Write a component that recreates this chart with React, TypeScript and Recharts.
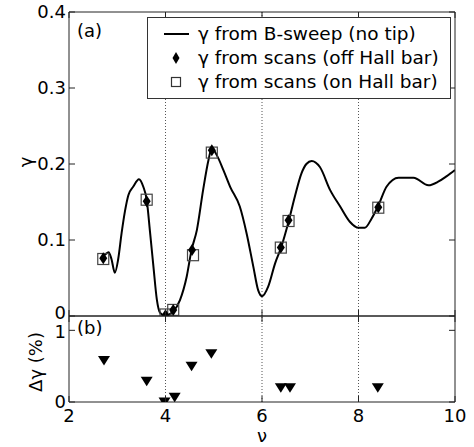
import React from 'react';
import { ComposedChart, Line, Scatter, XAxis, YAxis, ReferenceLine, Legend } from 'recharts';

// ---- data ----
const nuSweep = [
  2.68, 2.75, 2.82, 2.88, 2.95, 3.02, 3.09, 3.16, 3.23, 3.33, 3.45, 3.54, 3.61, 3.68, 3.75, 3.82, 3.89,
  4.0, 4.08, 4.16, 4.3, 4.44, 4.54, 4.65, 4.78, 4.89, 4.96, 5.06, 5.2, 5.34, 5.54, 5.68, 5.82, 5.92,
  6.0, 6.13, 6.27, 6.39, 6.55, 6.68, 6.82, 6.92, 7.03, 7.2, 7.41, 7.62, 7.82, 8.0, 8.13, 8.27, 8.41,
  8.58, 8.83, 9.14, 9.45, 9.66, 9.83, 10.0,
];
const gammaSweep = [
  0.077, 0.081, 0.084, 0.075, 0.057, 0.075, 0.109, 0.138, 0.159, 0.17, 0.18, 0.17, 0.153, 0.11, 0.065, 0.022, 0.004,
  0.0, 0.002, 0.006, 0.021, 0.052, 0.087, 0.113, 0.166, 0.205, 0.221, 0.212, 0.192, 0.17, 0.144, 0.109, 0.065, 0.034,
  0.026, 0.039, 0.069, 0.089, 0.124, 0.157, 0.188, 0.2, 0.204, 0.196, 0.166, 0.144, 0.124, 0.116, 0.116, 0.128, 0.145,
  0.17, 0.182, 0.182, 0.172, 0.177, 0.184, 0.192,
];
const nuScan = [2.71, 3.61, 4.0, 4.16, 4.55, 4.96, 6.39, 6.55, 8.41];
const gammaOff = [0.076, 0.151, 0.001, 0.008, 0.087, 0.218, 0.09, 0.126, 0.143];
const nuScanOn = [2.71, 3.61, 4.0, 4.16, 4.57, 4.96, 6.39, 6.55, 8.41];
const gammaOn = [0.075, 0.153, 0.002, 0.008, 0.08, 0.215, 0.09, 0.125, 0.1425];
const nuDelta = [2.725, 3.61, 3.98, 4.19, 4.54, 4.95, 6.39, 6.58, 8.4];
const deltaGamma = [0.58, 0.29, 0.0, 0.065, 0.5, 0.675, 0.2, 0.2, 0.2];

const xTicks = [2, 4, 6, 8, 10];
const gammaTicks = [0, 0.1, 0.2, 0.3, 0.4];
const deltaTicks = [0, 1];
const gridNu = [4, 6, 8];

const legendLabels = [
  'γ from B-sweep (no tip)',
  'γ from scans (off Hall bar)',
  'γ from scans (on Hall bar)',
];

const sweepData = nuSweep.map((x, i) => ({ x, y: gammaSweep[i] }));
const offData = nuScan.map((x, i) => ({ x, y: gammaOff[i] }));
const onData = nuScanOn.map((x, i) => ({ x, y: gammaOn[i] }));
const deltaData = nuDelta.map((x, i) => ({ x, y: deltaGamma[i] }));

// ---- styling ----
const FONT = '"DejaVu Sans", sans-serif';
const AX = '#222';
const TICK_LEN = 6;

const makeLeftTick = (nudge: (v: number) => number) => (props: any) => {
  const { x, y, payload } = props;
  return (
    <g>
      <line x1={x} x2={x + TICK_LEN} y1={y} y2={y} stroke={AX} />
      <text x={x - 3} y={y + nudge(payload.value)} dy="0.36em" textAnchor="end" fontSize={18} fontFamily={FONT} fill="#000">
        {String(payload.value)}
      </text>
    </g>
  );
};
const LeftTickTop = makeLeftTick((v) => (v === 0 ? -3 : 0));
const LeftTickBottom = makeLeftTick((v) => (v === 1 ? 1 : 0));
const RightTick = (props: any) => {
  const { x, y } = props;
  return <line x1={x - TICK_LEN} x2={x} y1={y} y2={y} stroke={AX} />;
};
const TopTick = (props: any) => {
  const { x, y } = props;
  return <line x1={x} x2={x} y1={y} y2={y + TICK_LEN} stroke={AX} />;
};
const BottomInnerTick = (props: any) => {
  const { x, y } = props;
  return <line x1={x} x2={x} y1={y - TICK_LEN} y2={y} stroke={AX} />;
};
const BottomLabelTick = (props: any) => {
  const { x, y, payload } = props;
  return (
    <g>
      <line x1={x} x2={x} y1={y - TICK_LEN} y2={y} stroke={AX} />
      <text x={x} y={y + 20} textAnchor="middle" fontSize={18} fontFamily={FONT} fill="#000">
        {String(payload.value)}
      </text>
    </g>
  );
};

const diamondShape = (p: any) => {
  const { cx, cy } = p;
  return <path d={`M${cx},${cy - 6} L${cx + 4},${cy} L${cx},${cy + 6} L${cx - 4},${cy} Z`} fill="#000" />;
};
const squareShape = (p: any) => {
  const { cx, cy } = p;
  return <rect x={cx - 5.5} y={cy - 5.5} width={11} height={11} fill="none" stroke="#444" strokeWidth={1.2} />;
};
const triangleShape = (p: any) => {
  const { cx, cy } = p;
  return <path d={`M${cx - 6},${cy - 4.5} L${cx + 6},${cy - 4.5} L${cx},${cy + 5} Z`} fill="#000" />;
};

const GammaLabel = (props: any) => {
  const vb = props.viewBox;
  const cx = vb.x + vb.width / 2 - 9.5;
  const cy = vb.y + vb.height / 2 - 2;
  return (
    <text x={cx} y={cy} transform={`rotate(-90 ${cx} ${cy})`} textAnchor="middle" dominantBaseline="central"
      fontSize={18} fontFamily={FONT} fill="#000">γ</text>
  );
};
const DeltaLabel = (props: any) => {
  const vb = props.viewBox;
  const cx = vb.x + vb.width / 2 + 0.5;
  const cy = vb.y + vb.height / 2 + 3;
  return (
    <text x={cx} y={cy} transform={`rotate(-90 ${cx} ${cy})`} textAnchor="middle" dominantBaseline="central"
      fontSize={18} fontFamily={FONT} fill="#000">Δγ (%)</text>
  );
};
const NuLabel = (props: any) => {
  const vb = props.viewBox;
  return (
    <text x={vb.x + vb.width / 2} y={vb.y + 40} textAnchor="middle" fontSize={18} fontFamily={FONT} fill="#000">ν</text>
  );
};

const LegendBox = () => {
  const icons = [
    <line key="l" x1={16} x2={41} y1={12} y2={12} stroke="#000" strokeWidth={2} />,
    <path key="d" d="M28,6 L31.5,12 L28,18 L24.5,12 Z" fill="#000" />,
    <rect key="s" x={23.5} y={7.5} width={9} height={9} fill="none" stroke="#333" strokeWidth={1.2} />,
  ];
  return (
    <div style={{ width: 304, height: 82, boxSizing: 'border-box', border: '1px solid #333', background: '#fff',
      paddingTop: 4, fontFamily: FONT, fontSize: 18.5, color: '#000' }}>
      {legendLabels.map((t, i) => (
        <div key={t} style={{ display: 'flex', alignItems: 'center', height: 24, whiteSpace: 'nowrap' }}>
          <svg width={50} height={24} style={{ flex: 'none' }}>{icons[i]}</svg>
          <span style={{ lineHeight: '24px' }}>{t}</span>
        </div>
      ))}
    </div>
  );
};

export default function App() {
  return (
    <div style={{ position: 'absolute', left: 0, top: 0, width: 474, height: 447, background: '#fff', fontFamily: FONT }}>
      <div style={{ position: 'absolute', left: 0, top: 0 }}>
        <ComposedChart width={474} height={330} margin={{ top: 11, right: 18, bottom: 13, left: 0 }}>
          <XAxis xAxisId="b" type="number" dataKey="x" domain={[2, 10]} ticks={xTicks} interval={0}
            orientation="bottom" height={1} tickSize={0} tickMargin={0} tickLine={false}
            axisLine={{ stroke: AX }} tick={BottomInnerTick} allowDataOverflow />
          <XAxis xAxisId="t" type="number" dataKey="x" domain={[2, 10]} ticks={xTicks} interval={0}
            orientation="top" height={1} tickSize={0} tickMargin={0} tickLine={false}
            axisLine={{ stroke: AX }} tick={TopTick} allowDataOverflow />
          <YAxis yAxisId="L" type="number" dataKey="y" domain={[0, 0.4]} ticks={gammaTicks} interval={0}
            width={69} tickSize={0} tickMargin={0} tickLine={false} axisLine={{ stroke: AX }}
            tick={LeftTickTop} allowDataOverflow label={<GammaLabel />} />
          <YAxis yAxisId="R" type="number" dataKey="y" orientation="right" domain={[0, 0.4]} ticks={gammaTicks}
            interval={0} width={1} tickSize={0} tickMargin={0} tickLine={false} axisLine={{ stroke: AX }}
            tick={RightTick} allowDataOverflow />
          {gridNu.map((v) => (
            <ReferenceLine key={v} x={v} xAxisId="b" yAxisId="L" stroke="#555" strokeDasharray="1 2" />
          ))}
          <Line data={sweepData} xAxisId="b" yAxisId="L" dataKey="y" type="monotone" stroke="#000"
            strokeWidth={2} dot={false} isAnimationActive={false} />
          <Scatter data={onData} xAxisId="b" yAxisId="L" dataKey="y" shape={squareShape} isAnimationActive={false} />
          <Scatter data={offData} xAxisId="b" yAxisId="L" dataKey="y" shape={diamondShape} isAnimationActive={false} />
          <Legend layout="horizontal" verticalAlign="middle" align="center" content={() => <LegendBox />}
            wrapperStyle={{ position: 'absolute', left: 147, top: 17, width: 304, height: 82 }} />
        </ComposedChart>
      </div>
      <div style={{ position: 'absolute', left: 0, top: 300 }}>
        <ComposedChart width={474} height={147} margin={{ top: 15, right: 18, bottom: 0, left: 0 }}>
          <XAxis xAxisId="b" type="number" dataKey="x" domain={[2, 10]} ticks={xTicks} interval={0}
            orientation="bottom" height={45} tickSize={0} tickMargin={0} tickLine={false}
            axisLine={{ stroke: AX }} tick={BottomLabelTick} allowDataOverflow label={<NuLabel />} />
          <XAxis xAxisId="t" type="number" dataKey="x" domain={[2, 10]} ticks={xTicks} interval={0}
            orientation="top" height={1} tickSize={0} tickMargin={0} tickLine={false}
            axisLine={{ stroke: AX }} tick={TopTick} allowDataOverflow />
          <YAxis yAxisId="L" type="number" dataKey="y" domain={[0, 1.2]} ticks={deltaTicks} interval={0}
            width={69} tickSize={0} tickMargin={0} tickLine={false} axisLine={{ stroke: AX }}
            tick={LeftTickBottom} allowDataOverflow label={<DeltaLabel />} />
          <YAxis yAxisId="R" type="number" dataKey="y" orientation="right" domain={[0, 1.2]} ticks={deltaTicks}
            interval={0} width={1} tickSize={0} tickMargin={0} tickLine={false} axisLine={{ stroke: AX }}
            tick={RightTick} allowDataOverflow />
          {gridNu.map((v) => (
            <ReferenceLine key={v} x={v} xAxisId="b" yAxisId="L" stroke="#555" strokeDasharray="1 2" />
          ))}
          <Scatter data={deltaData} xAxisId="b" yAxisId="L" dataKey="y" shape={triangleShape} isAnimationActive={false} />
        </ComposedChart>
      </div>
      <div style={{ position: 'absolute', left: 77, top: 21, fontSize: 18, lineHeight: '20px', fontFamily: FONT }}>(a)</div>
      <div style={{ position: 'absolute', left: 77, top: 318, fontSize: 18, lineHeight: '20px', fontFamily: FONT }}>(b)</div>
    </div>
  );
}
